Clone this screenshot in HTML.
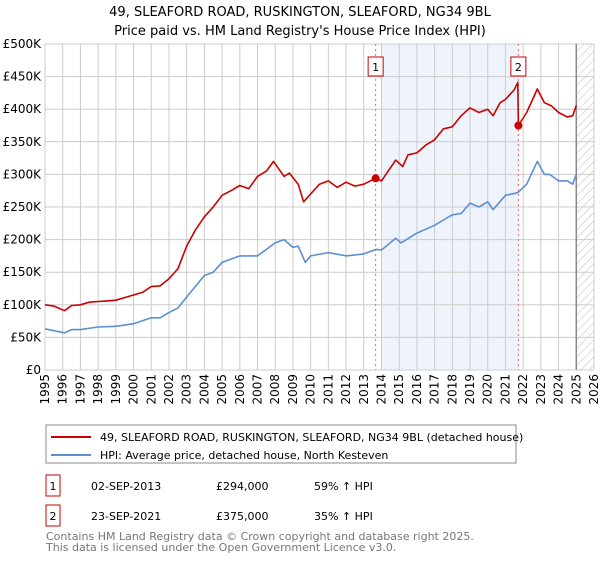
<!DOCTYPE html>
<html><head><meta charset="utf-8"><style>
body{margin:0;background:#fff;font-family:"Liberation Sans","DejaVu Sans",sans-serif;}
svg text{font-family:"DejaVu Sans","Liberation Sans",sans-serif;}
</style></head><body>
<svg id="chart" width="600" height="560" xmlns="http://www.w3.org/2000/svg">
<defs>
<pattern id="hatch" width="6" height="6" patternUnits="userSpaceOnUse" patternTransform="rotate(45)">
<line x1="0" y1="0" x2="0" y2="6" stroke="#bbb" stroke-width="1"/>
</pattern>
</defs>
<text x="300" y="16" text-anchor="middle" font-size="13" fill="#000">49, SLEAFORD ROAD, RUSKINGTON, SLEAFORD, NG34 9BL</text>
<text x="300" y="35" text-anchor="middle" font-size="13" fill="#000">Price paid vs. HM Land Registry's House Price Index (HPI)</text>
<g id="plot"></g>
<g>
<rect x="46" y="425" width="470" height="38" fill="#fff" stroke="#888" stroke-width="1"/>
<line x1="51" y1="437" x2="91" y2="437" stroke="#cc0000" stroke-width="2"/>
<text x="100" y="441" font-size="11">49, SLEAFORD ROAD, RUSKINGTON, SLEAFORD, NG34 9BL (detached house)</text>
<line x1="51" y1="455" x2="91" y2="455" stroke="#5b8fd0" stroke-width="2"/>
<text x="100" y="459" font-size="11">HPI: Average price, detached house, North Kesteven</text>
</g>
<g font-size="11">
<rect x="46" y="475" width="14" height="21" fill="#fff" stroke="#cc0000"/>
<text x="53" y="490" text-anchor="middle">1</text>
<text x="91" y="490">02-SEP-2013</text>
<text x="216" y="490">£294,000</text>
<text x="314" y="490">59% ↑ HPI</text>
<rect x="46" y="505" width="14" height="21" fill="#fff" stroke="#cc0000"/>
<text x="53" y="520" text-anchor="middle">2</text>
<text x="91" y="520">23-SEP-2021</text>
<text x="216" y="520">£375,000</text>
<text x="314" y="520">35% ↑ HPI</text>
</g>
<text x="46" y="540" font-size="11" fill="#777">Contains HM Land Registry data © Crown copyright and database right 2025.</text>
<text x="46" y="551" font-size="11" fill="#777">This data is licensed under the Open Government Licence v3.0.</text>
</svg>
<script>
const yearTicks=[1995,1996,1997,1998,1999,2000,2001,2002,2003,2004,2005,2006,2007,2008,2009,2010,2011,2012,2013,2014,2015,2016,2017,2018,2019,2020,2021,2022,2023,2024,2025,2026];
const priceTicks=[0,50,100,150,200,250,300,350,400,450,500];
const priceTickLabels=["£0","£50K","£100K","£150K","£200K","£250K","£300K","£350K","£400K","£450K","£500K"];
const propYears=[1995,1995.5,1996.1,1996.5,1997,1997.5,1998,1998.5,1999,1999.5,2000,2000.5,2001,2001.5,2002,2002.5,2003,2003.5,2004,2004.5,2005,2005.5,2006,2006.5,2007,2007.5,2007.9,2008.5,2008.8,2009.3,2009.6,2010,2010.5,2011,2011.5,2012,2012.5,2013,2013.67,2014,2014.8,2015.2,2015.5,2016,2016.5,2017,2017.5,2018,2018.5,2019,2019.5,2020,2020.3,2020.7,2021,2021.5,2021.7,2021.73,2022.2,2022.8,2023.2,2023.6,2024,2024.5,2024.8,2025];
const propValues=[100,98,91,99,100,104,105,106,107,111,115,119,128,129,140,155,190,215,235,250,268,275,283,278,297,305,320,297,302,285,258,270,285,290,280,288,282,285,294,290,322,312,330,333,345,353,370,373,390,402,395,400,390,410,415,430,441,375,395,431,410,405,395,388,390,406];
const hpiYears=[1995,1996.1,1996.5,1997,1998,1999,2000,2001,2001.5,2002,2002.5,2003,2004,2004.5,2005,2006,2007,2007.5,2008,2008.5,2009,2009.3,2009.7,2010,2011,2012,2013,2013.7,2014,2014.8,2015.1,2016,2017,2017.5,2018,2018.5,2019,2019.5,2020,2020.3,2021,2021.7,2022.2,2022.8,2023.2,2023.5,2024,2024.5,2024.8,2025];
const hpiValues=[63,57,62,62,66,67,71,80,80,88,95,112,145,150,165,175,175,185,195,200,188,190,165,175,180,175,178,185,184,202,195,210,222,230,238,240,256,250,258,246,268,272,285,320,300,300,290,290,285,300];
const saleYears=[2013.67,2021.73];
const saleValues=[294,375];
const saleLabels=["1","2"];

const X0=45,X1=594,Y0=370,Y1=44;
const xs=y=>X0+(y-1995)/(2026-1995)*(X1-X0);
const ys=v=>Y0-v/500*(Y0-Y1);
const NS="http://www.w3.org/2000/svg";
const plot=document.getElementById('plot');
function mk(tag,attrs,parent){const e=document.createElementNS(NS,tag);for(const k in attrs)e.setAttribute(k,attrs[k]);(parent||plot).appendChild(e);return e;}

let shade=mk('rect',{x:xs(2014),y:Y1,width:xs(saleYears[1])-xs(2014),height:Y0-Y1,fill:'#eef3fc'});


let hatch=mk('rect',{x:xs(2025),y:Y1,width:X1-xs(2025),height:Y0-Y1,fill:'url(#hatch)'});



yearTicks.forEach(yr=>{
  let l=mk('line',{x1:xs(yr),x2:xs(yr),y1:Y1,y2:Y0,stroke:'#cccccc','stroke-width':1});
  
  
  const tx=xs(yr)+4, ty=Y0+4;
  let t=mk('text',{x:tx,y:ty,'text-anchor':'end','font-size':12,transform:'rotate(-90 '+tx+' '+ty+')'});
  t.textContent=yr;
  
  
});
priceTicks.forEach((v,i)=>{
  let l=mk('line',{x1:X0,x2:X1,y1:ys(v),y2:ys(v),stroke:'#cccccc','stroke-width':1});
  
  
  let t=mk('text',{x:X0-4,y:ys(v)+4,'text-anchor':'end','font-size':12});
  t.textContent=priceTickLabels[i];
  
  
});
let nowLine=mk('line',{x1:xs(2025),x2:xs(2025),y1:Y1,y2:Y0,stroke:'#888','stroke-width':1.5});



saleYears.forEach((yr,i)=>{
  let l=mk('line',{x1:xs(yr),x2:xs(yr),y1:Y1,y2:Y0,stroke:'#ee6666','stroke-width':1,'stroke-dasharray':'2,3'});
  
  
});

function path(xa,va,color,name){
  const d=xa.map((x,i)=>(i?'L':'M')+xs(x).toFixed(1)+','+ys(va[i]).toFixed(1)).join('');
  let p=mk('path',{d:d,fill:'none',stroke:color,'stroke-width':1.6,'stroke-linejoin':'round'});
  
  
}
path(hpiYears,hpiValues,'#5b8fd0','hpi-line');
path(propYears,propValues,'#cc0000','property-price-line');

saleYears.forEach((yr,i)=>{
  let c=mk('circle',{cx:xs(yr),cy:ys(saleValues[i]),r:4,fill:'#cc0000'});
  
  
  let b=mk('rect',{x:xs(yr)-7.5,y:57,width:15,height:19,fill:'#fff',stroke:'#cc0000'});
  
  
  let t=mk('text',{x:xs(yr),y:71,'text-anchor':'middle','font-size':11});
  t.textContent=saleLabels[i];
  
  
});
</script>
</body></html>
